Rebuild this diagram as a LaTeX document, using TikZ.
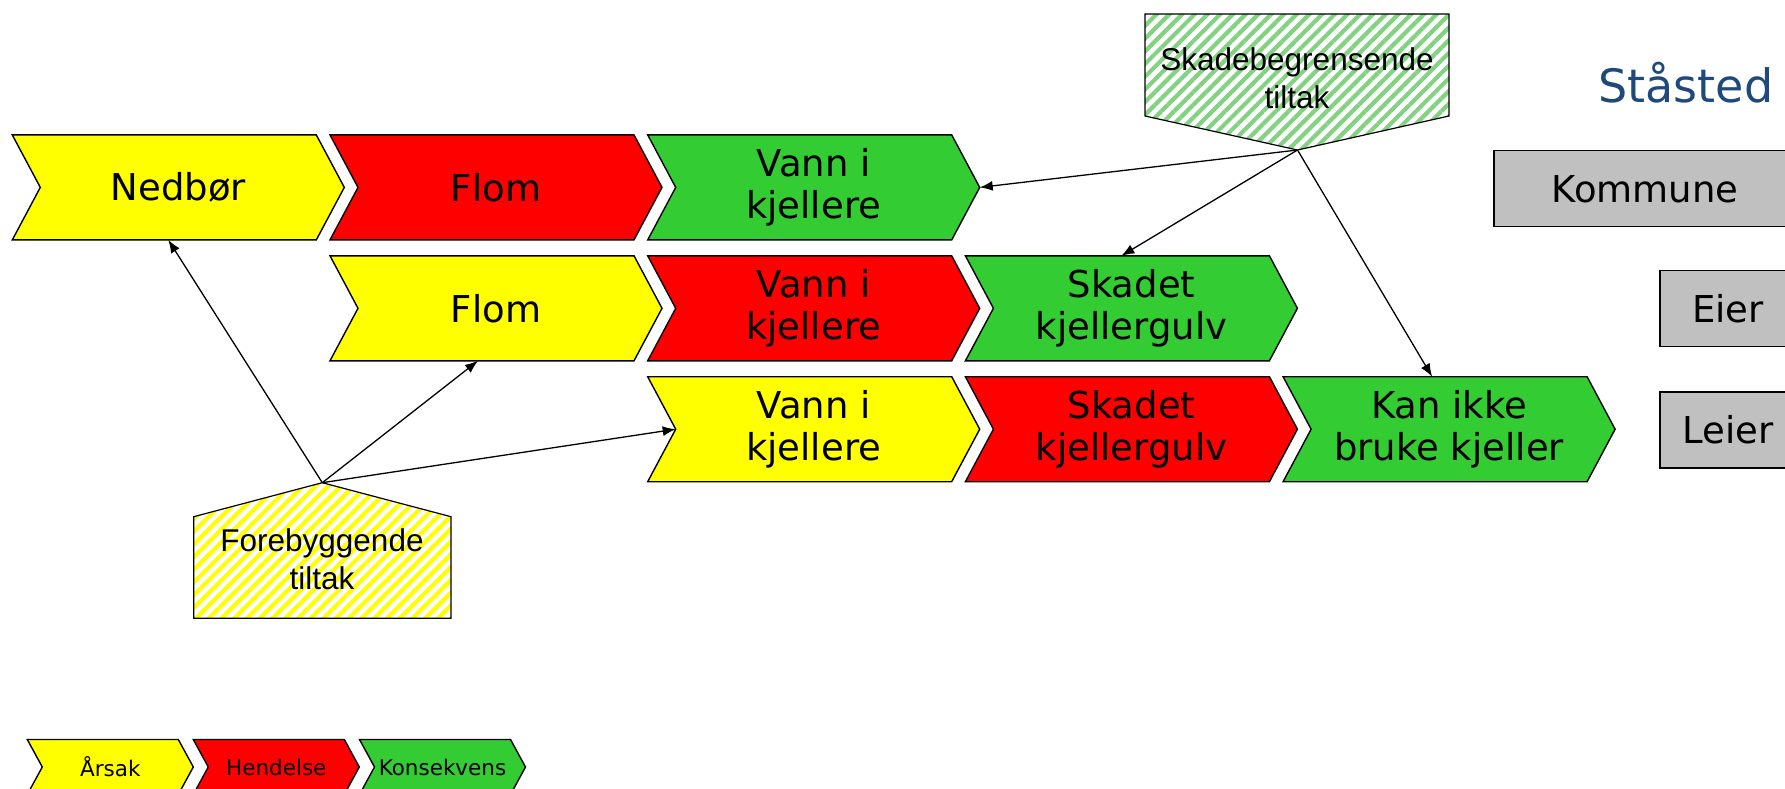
\documentclass[tikz,border=0pt]{standalone}
\usepackage{fontspec}
\setmainfont{DejaVu Sans}
\newfontfamily\arialfont{Liberation Sans}
\usetikzlibrary{arrows.meta,patterns.meta}

\definecolor{gul}{RGB}{255,255,0}
\definecolor{rod}{RGB}{255,0,0}
\definecolor{gronn}{RGB}{51,204,51}
\definecolor{lysgronn}{RGB}{130,210,130}
\definecolor{graa}{RGB}{192,192,192}
\definecolor{blaa}{RGB}{31,73,125}

\tikzset{
	kant/.style={draw=black, line width=1.4pt},
	pilboks/.style={minimum width=\cw pt, minimum height=\ch pt, inner sep=0pt, outer sep=0pt,
		align=center, font=\fontsize{37}{42}\selectfont},
	tiltak/.style={draw=black, line width=1.2pt},
	tiltaktekst/.style={align=center, inner sep=0pt, font=\arialfont\fontsize{31.5}{38}\selectfont},
	rolle/.style={draw=black, fill=graa, line width=1.2pt, minimum height=76pt,
		inner sep=0pt, font=\fontsize{37}{42}\selectfont}
}

% Pilform: #1 ekstra stil, #2 navn, #3 senter, #4 farge, #5 tekst
\newcommand{\pilform}[5][]{%
	\draw[kant, fill=#4, shift={(#3)}] (-\cw/2,-\ch/2) -- (\cw/2-\cd,-\ch/2) -- (\cw/2,0)
		-- (\cw/2-\cd,\ch/2) -- (-\cw/2,\ch/2) -- (-\cw/2+\cd,0) -- cycle;
	\node[pilboks, #1] (#2) at (#3) {#5};
}

\begin{document}
\begin{tikzpicture}[x=1pt, y=-1pt, >={Latex[length=13pt,width=10pt]}]
	\useasboundingbox (0,0) rectangle (1785,789);
	\clip (0,0) rectangle (1785,789);
	
	% Mål for pilformene
	\def\cw{332} % bredde
	\def\ch{105} % høyde
	\def\cd{28}  % spissens dybde
	
	% --- Rad 1 ---
	\pilform{nedbor}{178.3,187.4}{gul}{Nedbør}
	\pilform{flom1}{496,187.4}{rod}{Flom}
	\pilform{vann1}{813.7,187.4}{gronn}{Vann i\\kjellere}
	
	% --- Rad 2 ---
	\pilform{flom2}{496,308.3}{gul}{Flom}
	\pilform{vann2}{813.7,308.3}{rod}{Vann i\\kjellere}
	\pilform{skadet2}{1131.4,308.3}{gronn}{Skadet\\kjellergulv}
	
	% --- Rad 3 ---
	\pilform{vann3}{813.7,429.2}{gul}{Vann i\\kjellere}
	\pilform{skadet3}{1131.4,429.2}{rod}{Skadet\\kjellergulv}
	\pilform{kanikke}{1449.1,429.2}{gronn}{Kan ikke\\bruke kjeller}
	
	% --- Tiltak ---
	% Forebyggende (spiss opp)
	\draw[tiltak, pattern={Lines[angle=45,distance=9pt,line width=4.2pt]}, pattern color=gul]
		(193.7,618.3) -- (193.7,516.7) -- (322.3,482.7) coordinate (fore-topp)
		-- (451,516.7) -- (451,618.3) -- cycle;
	\node[tiltaktekst] (fore) at (322,559) {Forebyggende\\tiltak};
	% Skadebegrensende (spiss ned)
	\draw[tiltak, pattern={Lines[angle=45,distance=9pt,line width=4.2pt]}, pattern color=lysgronn]
		(1145,14) -- (1449,14) -- (1449,116) -- (1297.5,150) coordinate (skade-bunn)
		-- (1145,116) -- cycle;
	\node[tiltaktekst] (skade) at (1297,78) {Skadebegrensende\\tiltak};
	
	% --- Piler ---
	\draw[->, line width=1.3pt] (fore-topp) -- ([xshift=-10pt]nedbor.south);
	\draw[->, line width=1.3pt] (fore-topp) -- ([xshift=-18pt]flom2.south);
	\draw[->, line width=1.3pt] (fore-topp) -- ([xshift=\cd pt]vann3.west);
	\draw[->, line width=1.3pt] (skade-bunn) -- (vann1.east);
	\draw[->, line width=1.3pt] (skade-bunn) -- ([xshift=-10pt]skadet2.north);
	\draw[->, line width=1.3pt] (skade-bunn) -- ([xshift=-17pt]kanikke.north);
	
	% --- Ståsted ---
	\node[anchor=base, text=blaa, font=\fontsize{46}{55}\selectfont] (staasted) at (1686,102.5) {Ståsted};
	\node[rolle, minimum width=302pt] (kommune) at (1645,188.8) {Kommune};
	\node[rolle, minimum width=136pt] (eier) at (1728,308.5) {Eier};
	\node[rolle, minimum width=136pt] (leier) at (1728,430) {Leier};
	
	% --- Forklaring ---
	\def\cw{166}
	\def\ch{55}
	\def\cd{15}
	\pilform[font=\fontsize{21.5}{26}\selectfont]{aarsak}{110.3,767}{gul}{Årsak}
	\pilform[font=\fontsize{21.5}{26}\selectfont]{hendelse}{276.3,767}{rod}{Hendelse}
	\pilform[font=\fontsize{21.5}{26}\selectfont]{konsekvens}{442.5,767}{gronn}{Konsekvens}
\end{tikzpicture}
\end{document}
